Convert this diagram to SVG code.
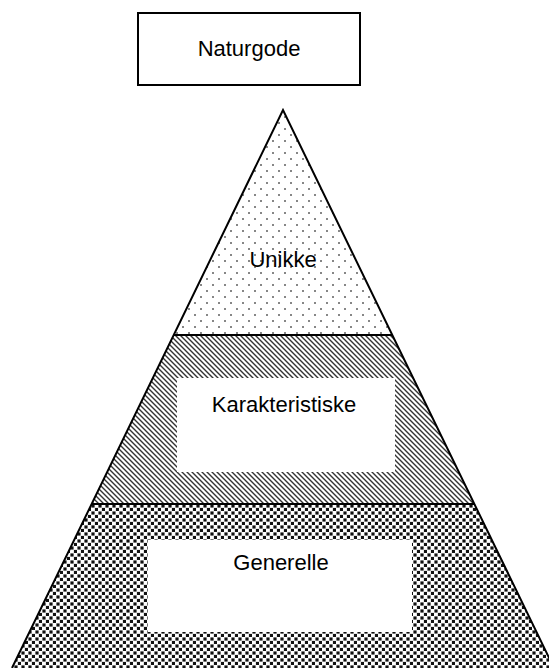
<svg xmlns="http://www.w3.org/2000/svg" width="549" height="668" viewBox="0 0 549 668">
<style>
.lbl{font-family:"Liberation Sans",Arial,sans-serif;font-size:22px;fill:#000;text-anchor:middle}
.edge{fill:none;stroke:#000;stroke-width:2;stroke-linejoin:miter}
.box{fill:#fff;stroke:none}
</style>
<defs>
<pattern id="dots" width="12" height="12" patternUnits="userSpaceOnUse">
<rect x="2.2" y="2.2" width="1.6" height="1.6" fill="#444"/>
<rect x="8.2" y="8.2" width="1.6" height="1.6" fill="#444"/>
</pattern>
<pattern id="hatch" width="5" height="5" patternUnits="userSpaceOnUse">
<path d="M-1,-1 L6,6 M-1,4 L1,6 M4,-1 L6,1" stroke="#333" stroke-width="1.4" fill="none"/>
</pattern>
<pattern id="squares" width="7" height="7" patternUnits="userSpaceOnUse">
<rect x="0.4" y="0.4" width="3.2" height="3.2" fill="#111"/>
<rect x="3.9" y="3.9" width="3.2" height="3.2" fill="#111"/>
</pattern>
</defs>
<g id="naturgode">
<rect x="138" y="13" width="222" height="72" fill="#fff" stroke="#000" stroke-width="2"/>
<text class="lbl" x="249" y="56">Naturgode</text>
</g>
<g id="unikke">
<polygon points="283,110 392.27,335 173.73,335" fill="url(#dots)"/>
<text class="lbl" x="283" y="267">Unikke</text>
</g>
<g id="karakteristiske">
<polygon points="173.73,335 392.27,335 474.35,504 91.65,504" fill="url(#hatch)"/>
<rect class="box" x="177" y="378" width="218" height="94"/>
<text class="lbl" x="284" y="412">Karakteristiske</text>
</g>
<g id="generelle">
<polygon points="91.65,504 474.35,504 554,668 12,668" fill="url(#squares)"/>
<rect class="box" x="148" y="540" width="264" height="92"/>
<text class="lbl" x="281" y="570">Generelle</text>
</g>
<g id="outline">
<polyline class="edge" points="12,668 283,110 554,668"/>
<line class="edge" x1="173.73" y1="335" x2="392.27" y2="335"/>
<line class="edge" x1="91.65" y1="504" x2="474.35" y2="504"/>
</g>
</svg>
